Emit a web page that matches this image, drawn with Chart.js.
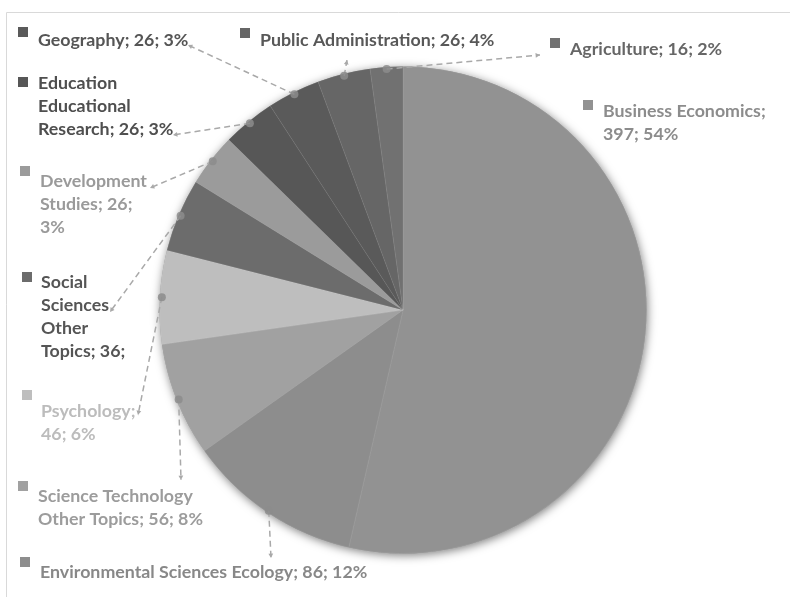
<!DOCTYPE html>
<html>
<head>
<meta charset="utf-8">
<script src="https://cdn.jsdelivr.net/npm/chart.js@4.4.1/dist/chart.umd.min.js"></script>
<style>
  html, body { margin: 0; padding: 0; background: #fff; }
  #wrap { position: relative; width: 790px; height: 597px; }
</style>
</head>
<body>
<div id="wrap"><canvas id="pieChart" width="790" height="597"></canvas></div>
<script>
// research areas, clockwise from 12 o'clock
const categories = [
  "Business Economics",
  "Environmental Sciences Ecology",
  "Science Technology Other Topics",
  "Psychology",
  "Social Sciences Other Topics",
  "Development Studies",
  "Education Educational Research",
  "Geography",
  "Public Administration",
  "Agriculture"
];
const counts = [397, 86, 56, 46, 36, 26, 26, 26, 26, 16];
const percents = ["54%", "12%", "8%", "6%", "5%", "3%", "3%", "3%", "4%", "2%"];

const sliceColors = ["#929292", "#8d8d8d", "#a1a1a1", "#bebebe", "#6c6c6c", "#9b9b9b", "#575757", "#5a5a5a", "#666666", "#717171"];
const textColors = ["#8c8c8c", "#888888", "#9c9c9c", "#bcbcbc", "#555555", "#9a9a9a", "#4f4f4f", "#555555", "#585858", "#666666"];

const LABEL_FONT = "bold 17.8px Lato";
const LINE_H = 23;

// where each label sits: text start, first baseline, wrap width, legend square, arrow tip
const labelLayout = [
  { x: 603, y: 117, wrap: 185, sq: [583, 100] },
  { x: 40, y: 578, wrap: 420, sq: [20, 557], tip: [271, 558] },
  { x: 38, y: 502, wrap: 185, sq: [18, 481], tip: [181, 480] },
  { x: 41, y: 417, wrap: 105, sq: [22, 390], tip: [138, 415] },
  { x: 41, y: 288, wrap: 95, sq: [22, 272], tip: [110, 312], maxLines: 4 },
  { x: 40, y: 187, wrap: 118, sq: [20, 166], tip: [150, 188] },
  { x: 38, y: 89, wrap: 150, sq: [18, 77], tip: [173, 135] },
  { x: 38, y: 46, wrap: 300, sq: [18, 27], tip: [188, 45] },
  { x: 260, y: 46, wrap: 300, sq: [240, 28], tip: [347, 60] },
  { x: 570, y: 55, wrap: 300, sq: [550, 38], tip: [540, 55] }
];

function wrapText(ctx, text, maxWidth) {
  const words = text.split(" ");
  const lines = [];
  let line = "";
  words.forEach(w => {
    const test = line ? line + " " + w : w;
    if (line && ctx.measureText(test).width > maxWidth) {
      lines.push(line);
      line = w;
    } else {
      line = test;
    }
  });
  if (line) lines.push(line);
  return lines;
}

function drawArrow(ctx, x0, y0, x1, y1) {
  const a = Math.atan2(y1 - y0, x1 - x0);
  const s = 5;
  ctx.beginPath();
  ctx.moveTo(x1, y1);
  ctx.lineTo(x1 - s * Math.cos(a - 0.5), y1 - s * Math.sin(a - 0.5));
  ctx.lineTo(x1 - s * Math.cos(a + 0.5), y1 - s * Math.sin(a + 0.5));
  ctx.closePath();
  ctx.fill();
}

const framePlugin = {
  id: "frame",
  beforeDraw(chart) {
    const ctx = chart.ctx;
    ctx.save();
    ctx.strokeStyle = "#d9d9d9";
    ctx.lineWidth = 1;
    ctx.beginPath();
    ctx.moveTo(6.5, 597);
    ctx.lineTo(6.5, 12.5);
    ctx.lineTo(790, 12.5);
    ctx.stroke();
    ctx.restore();
  }
};

const pieShadow = {
  id: "pieShadow",
  beforeDatasetsDraw(chart) {
    const arc = chart.getDatasetMeta(0).data[0];
    const ctx = chart.ctx;
    ctx.save();
    ctx.shadowColor = "rgba(0,0,0,0.5)";
    ctx.shadowBlur = 10;
    ctx.shadowOffsetX = 1;
    ctx.shadowOffsetY = 2;
    ctx.fillStyle = "#909090";
    ctx.beginPath();
    ctx.arc(arc.x, arc.y, arc.outerRadius, 0, Math.PI * 2);
    ctx.fill();
    ctx.restore();
  }
};

const leaderLabels = {
  id: "leaderLabels",
  afterDatasetsDraw(chart) {
    const ctx = chart.ctx;
    const meta = chart.getDatasetMeta(0);
    ctx.save();
    ctx.font = LABEL_FONT;
    ctx.textBaseline = "alphabetic";
    meta.data.forEach((arc, i) => {
      const lay = labelLayout[i];
      if (lay.tip) {
        const mid = (arc.startAngle + arc.endAngle) / 2;
        const r = arc.outerRadius - 2;
        const px = arc.x + Math.cos(mid) * r;
        const py = arc.y + Math.sin(mid) * r;
        ctx.strokeStyle = "#a9a9a9";
        ctx.fillStyle = "#a9a9a9";
        ctx.lineWidth = 1.5;
        ctx.setLineDash([6, 4]);
        ctx.beginPath();
        ctx.moveTo(px, py);
        ctx.lineTo(lay.tip[0], lay.tip[1]);
        ctx.stroke();
        ctx.setLineDash([]);
        drawArrow(ctx, px, py, lay.tip[0], lay.tip[1]);
        ctx.fillStyle = "rgba(140,140,140,0.85)";
        ctx.beginPath();
        ctx.arc(px, py, 4, 0, Math.PI * 2);
        ctx.fill();
      }
      ctx.fillStyle = sliceColors[i];
      ctx.fillRect(lay.sq[0], lay.sq[1], 10, 10);
      ctx.fillStyle = textColors[i];
      let lines = wrapText(ctx, `${categories[i]}; ${counts[i]}; ${percents[i]}`, lay.wrap);
      if (lay.maxLines) lines = lines.slice(0, lay.maxLines);
      lines.forEach((ln, k) => ctx.fillText(ln, lay.x, lay.y + k * LINE_H));
    });
    ctx.restore();
  }
};

new Chart(document.getElementById("pieChart"), {
  type: "pie",
  data: {
    labels: categories,
    datasets: [{
      data: counts,
      backgroundColor: sliceColors,
      borderColor: "rgba(255,255,255,0.07)",
      borderWidth: 1
    }]
  },
  options: {
    responsive: false,
    animation: false,
    layout: { padding: { top: 66, bottom: 43, left: 100, right: 84 } },
    plugins: {
      legend: { display: false },
      tooltip: { enabled: false }
    }
  },
  plugins: [framePlugin, pieShadow, leaderLabels]
});
</script>
</body>
</html>
